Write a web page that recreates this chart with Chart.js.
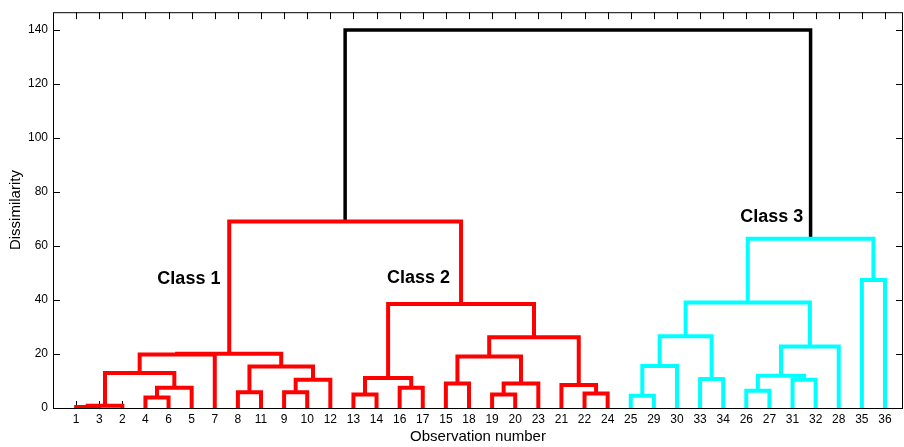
<!DOCTYPE html>
<html>
<head>
<meta charset="utf-8">
<title>Dendrogram</title>
<script src="https://cdn.jsdelivr.net/npm/chart.js@4.4.0/dist/chart.umd.min.js"></script>
<style>
  html, body { margin: 0; padding: 0; background: #fff; }
</style>
</head>
<body>
<canvas id="dendro" width="904" height="447"></canvas>
<script>
// observations in the order they appear along the x axis
var leafOrder = [1, 3, 2, 4, 6, 5, 7, 8, 11, 9, 10, 12, 13, 14, 16, 17, 15, 18,
                 19, 20, 23, 21, 22, 24, 25, 29, 30, 33, 34, 26, 27, 31, 32, 28, 35, 36];

// linkage rows: 1..36 are observations, 37 + k is the cluster made by row k
var linkLeft   = [1, 37, 4, 39, 38, 41, 8, 9, 44, 43, 42, 13, 16, 48, 15, 19, 52, 51, 22, 21, 54, 50, 47,
                  25, 60, 33, 61, 26, 31, 64, 66, 63, 35, 68, 59];
var linkRight  = [3, 2, 6, 5, 40, 7, 11, 10, 12, 45, 46, 14, 17, 49, 18, 20, 23, 53, 24, 55, 56, 57, 58,
                  29, 30, 34, 62, 27, 32, 65, 28, 67, 36, 69, 70];
var linkHeight = [0.4, 0.8, 3.9, 7.5, 13.0, 19.8, 5.8, 5.8, 10.5, 15.4, 20.1, 5.0, 7.5, 11.1, 9.1, 5.0, 9.1, 19.1, 5.4, 8.5, 26.2, 38.5, 69.1,
                  4.5, 15.6, 10.7, 26.6, 6.4, 10.5, 11.9, 22.8, 39.1, 47.4, 62.7, 140.0];

var yTicks = [0, 20, 40, 60, 80, 100, 120, 140];

var classNames = ["Class 1", "Class 2", "Class 3"];
var classX = [5.88, 15.82, 31.1];
var classY = [47.9, 48.1, 70.9];

var cutHeight = 100;
var clusterColors = ["#ff0000", "#00ffff"];
var fontFamily = '"Liberation Sans", Arial, Helvetica, sans-serif';

// positions of every node
var nLeaf = leafOrder.length;
var xPos = {}, yPos = {}, parent = {};
leafOrder.forEach(function (obs, i) { xPos[obs] = i + 1; yPos[obs] = 0; });
for (var k = 0; k < linkHeight.length; k++) {
  var id = nLeaf + 1 + k;
  xPos[id] = (xPos[linkLeft[k]] + xPos[linkRight[k]]) / 2;
  yPos[id] = linkHeight[k];
  parent[linkLeft[k]] = id;
  parent[linkRight[k]] = id;
}

// the clusters below the cut get a colour each, left to right
function clusterRoot(id) {
  while (parent[id] && yPos[parent[id]] < cutHeight) id = parent[id];
  return id;
}
var roots = [];
for (var k = 0; k < linkHeight.length; k++) {
  var id = nLeaf + 1 + k;
  if (linkHeight[k] < cutHeight) {
    var r = clusterRoot(id);
    if (roots.indexOf(r) < 0) roots.push(r);
  }
}
roots.sort(function (a, b) { return xPos[a] - xPos[b]; });

var datasets = [];
for (var k = 0; k < linkHeight.length; k++) {
  var a = linkLeft[k], b = linkRight[k], h = linkHeight[k];
  var color = "#000000";
  if (h < cutHeight) color = clusterColors[roots.indexOf(clusterRoot(nLeaf + 1 + k)) % clusterColors.length];
  datasets.push({
    data: [{x: xPos[a], y: yPos[a]}, {x: xPos[a], y: h}, {x: xPos[b], y: h}, {x: xPos[b], y: yPos[b]}],
    showLine: true,
    borderColor: color,
    borderWidth: h < cutHeight ? 4 : 3.5,
    borderJoinStyle: "miter",
    borderCapStyle: "butt",
    pointRadius: 0,
    fill: false,
    tension: 0
  });
}

// axes box with inward ticks, like the original plot
var framePlugin = {
  id: "frame",
  beforeDatasetsDraw: function (chart) {
    var ctx = chart.ctx, area = chart.chartArea;
    var xs = chart.scales.x, ys = chart.scales.y;
    ctx.save();
    ctx.strokeStyle = "#000";
    ctx.lineWidth = 1;
    ctx.beginPath();
    yTicks.forEach(function (v) {
      var py = Math.round(ys.getPixelForValue(v)) + 0.5;
      ctx.moveTo(area.left, py); ctx.lineTo(area.left + 7, py);
      ctx.moveTo(area.right, py); ctx.lineTo(area.right - 7, py);
    });
    for (var i = 1; i <= nLeaf; i++) {
      var px = Math.round(xs.getPixelForValue(i)) + 0.5;
      ctx.moveTo(px, area.top); ctx.lineTo(px, area.top + 7);
      ctx.moveTo(px, area.bottom); ctx.lineTo(px, area.bottom - 7);
    }
    ctx.stroke();
    ctx.strokeRect(area.left + 0.5, area.top + 0.5, area.right - area.left - 1, area.bottom - area.top);
    ctx.restore();
  },
  afterDatasetsDraw: function (chart) {
    var ctx = chart.ctx;
    var xs = chart.scales.x, ys = chart.scales.y;
    ctx.save();
    ctx.fillStyle = "#000";
    ctx.font = "bold 18px " + fontFamily;
    ctx.textAlign = "center";
    ctx.textBaseline = "middle";
    classNames.forEach(function (name, i) {
      ctx.fillText(name, xs.getPixelForValue(classX[i]), ys.getPixelForValue(classY[i]));
    });
    ctx.restore();
  }
};

var ctx = document.getElementById("dendro");
var chart = new Chart(ctx, {
  type: "scatter",
  data: { datasets: datasets },
  options: {
    responsive: false,
    animation: false,
    devicePixelRatio: 1,
    layout: { padding: { top: 9, right: 1, left: 0, bottom: 0 } },
    plugins: { legend: { display: false }, tooltip: { enabled: false } },
    scales: {
      x: {
        type: "linear",
        min: 0,
        max: 36.78,
        grid: { display: false, drawTicks: false },
        border: { display: false },
        afterBuildTicks: function (s) {
          s.ticks = leafOrder.map(function (o, i) { return { value: i + 1 }; });
        },
        afterFit: function (s) { s.height = 39; },
        ticks: {
          autoSkip: false,
          maxRotation: 0,
          padding: 4,
          color: "#000",
          font: { family: fontFamily, size: 12 },
          callback: function (v) { return leafOrder[v - 1]; }
        },
        title: {
          display: true,
          text: "Observation number",
          color: "#000",
          font: { family: fontFamily, size: 15 },
          padding: { top: 0, bottom: 1 }
        }
      },
      y: {
        type: "linear",
        min: 0,
        max: 146.6,
        grid: { display: false, drawTicks: false },
        border: { display: false },
        afterBuildTicks: function (s) {
          s.ticks = yTicks.map(function (v) { return { value: v }; });
        },
        afterFit: function (s) { s.width = 53; },
        ticks: {
          padding: 5,
          color: "#000",
          font: { family: fontFamily, size: 12 }
        },
        title: {
          display: true,
          text: "Dissimilarity",
          color: "#000",
          font: { family: fontFamily, size: 15 },
          padding: { top: 7, bottom: 0 }
        }
      }
    }
  },
  plugins: [framePlugin]
});
</script>
</body>
</html>
